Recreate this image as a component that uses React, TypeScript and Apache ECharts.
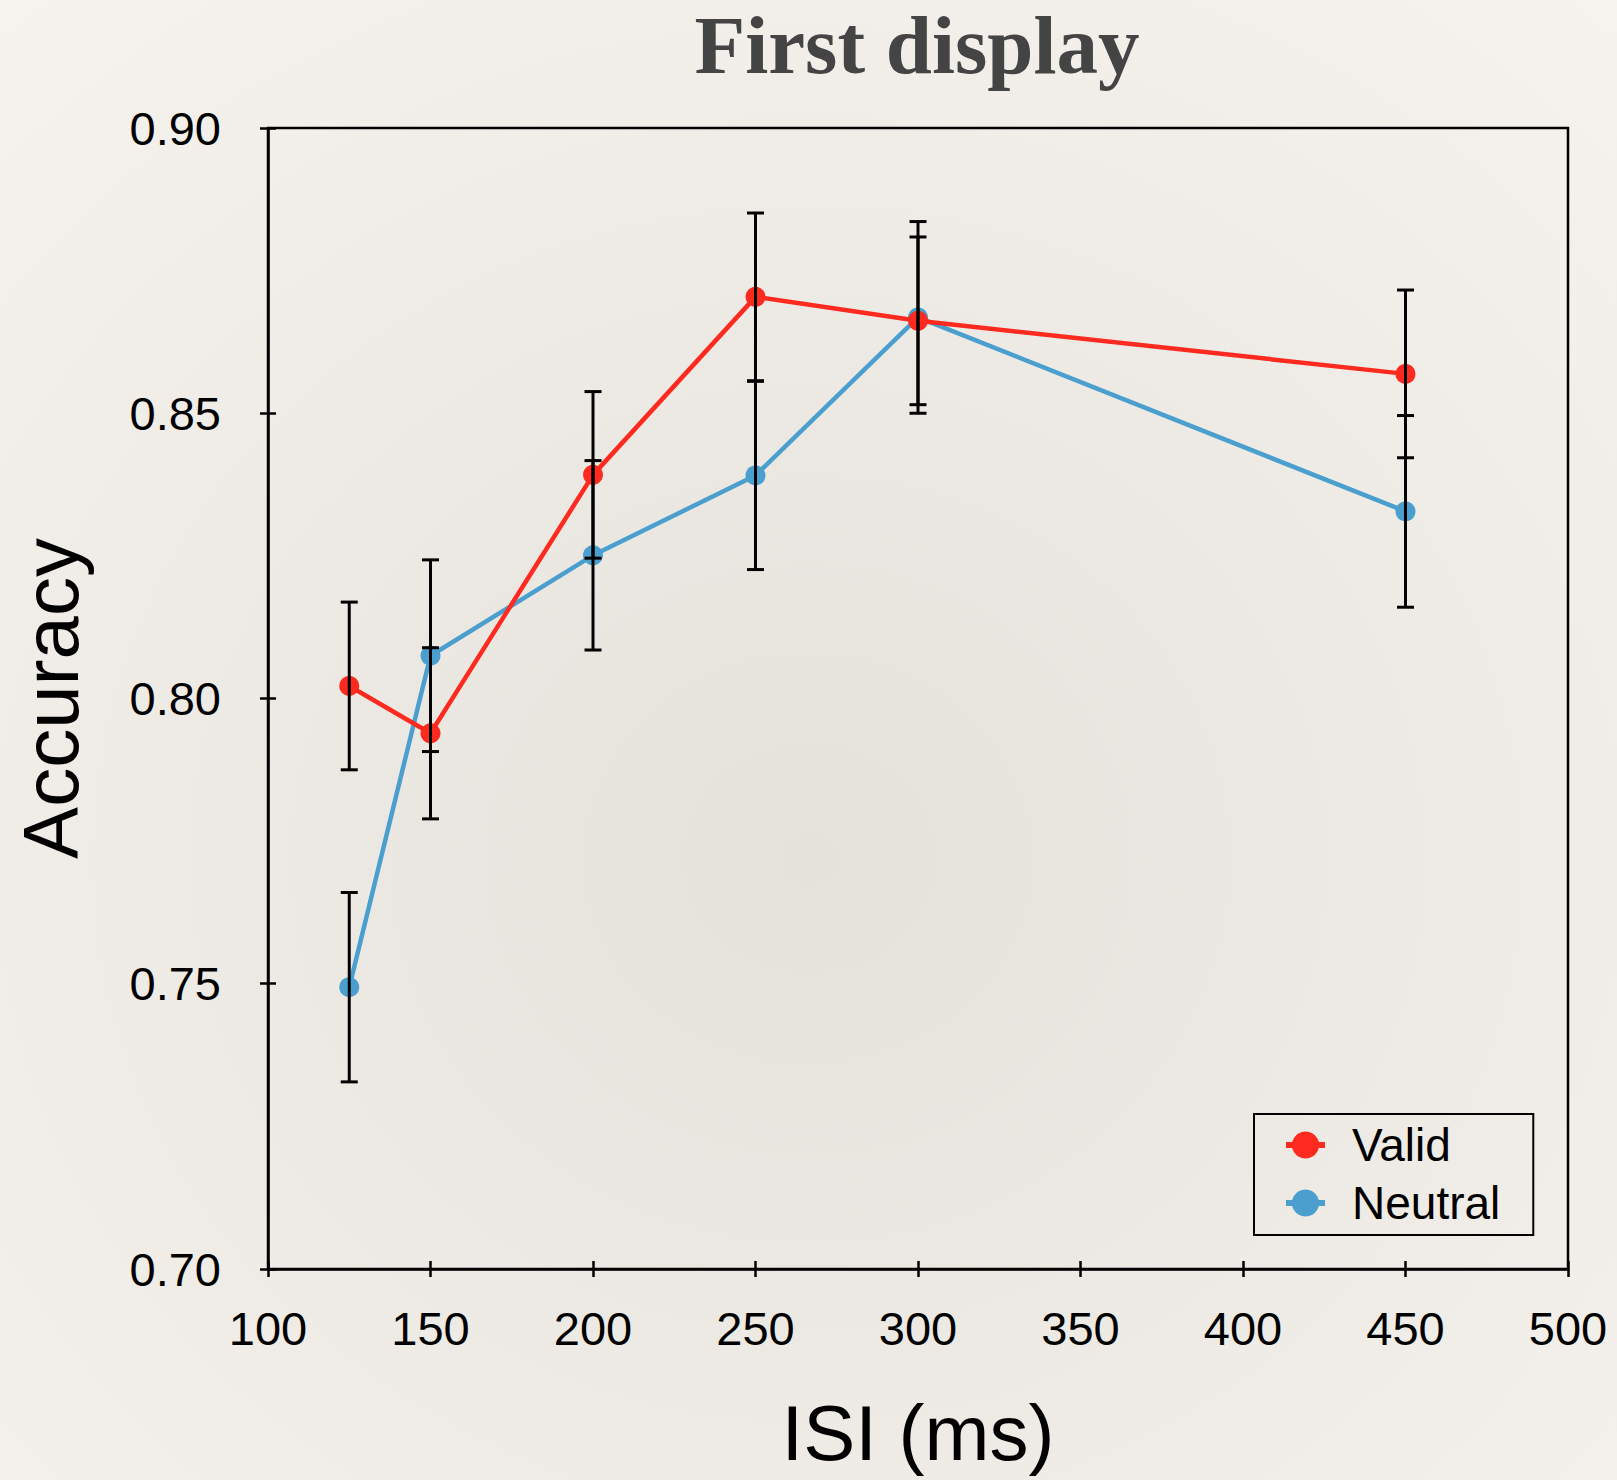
import React, { useEffect, useRef } from 'react';
import * as echarts from 'echarts';

const isi = [125, 150, 200, 250, 300, 450];
const validAcc = [0.8022, 0.7939, 0.8392, 0.8704, 0.8662, 0.8569];
const validErr = [0.0147, 0.015, 0.0146, 0.0147, 0.0147, 0.0147];
const neutralAcc = [0.7494, 0.8075, 0.8251, 0.8391, 0.8668, 0.8328];
const neutralErr = [0.0166, 0.0168, 0.0166, 0.0165, 0.0168, 0.0168];
const seriesNames = ['Valid', 'Neutral'];
const titleText = 'First display';
const xName = 'ISI (ms)';
const yName = 'Accuracy';

const RED = '#fd2a20';
const BLUE = '#4a9fcf';
const SANS = '"Liberation Sans", Arial, Helvetica, sans-serif';

function errorData(acc: number[], err: number[]) {
  return isi.map((x, i) => [x, acc[i] - err[i], acc[i] + err[i]]);
}

function renderErr(params: any, api: any) {
  const x = api.value(0);
  const lo = api.coord([x, api.value(1)]);
  const hi = api.coord([x, api.value(2)]);
  const w = 8.5;
  const st = { stroke: '#000', lineWidth: 3 };
  return {
    type: 'group',
    children: [
      { type: 'line', shape: { x1: lo[0], y1: lo[1], x2: hi[0], y2: hi[1] }, style: st },
      { type: 'line', shape: { x1: lo[0] - w, y1: lo[1], x2: lo[0] + w, y2: lo[1] }, style: st },
      { type: 'line', shape: { x1: hi[0] - w, y1: hi[1], x2: hi[0] + w, y2: hi[1] }, style: st },
    ],
  };
}

export default function App() {
  const ref = useRef<HTMLDivElement>(null);
  useEffect(() => {
    document.body.style.margin = '0';
    const chart = echarts.init(ref.current!, null, { renderer: 'svg' });
    const axisLine = { show: true, lineStyle: { color: '#000', width: 2.5 } };
    const tickStyle = { color: '#000', width: 2.5 };
    const labelStyle = { color: '#000', fontSize: 47, fontFamily: SANS };
    const nameStyle = { color: '#000', fontSize: 78, fontFamily: SANS };
    chart.setOption({
      animation: false,
      backgroundColor: new echarts.graphic.RadialGradient(0.5, 0.58, 0.75, [
        { offset: 0, color: '#e5e2dc' },
        { offset: 1, color: '#f6f3ee' },
      ]),
      graphic: [
        {
          type: 'text',
          x: 917,
          y: 3,
          z: 10,
          style: {
            text: titleText,
            fill: '#444',
            fontSize: 83,
            fontWeight: 'bold',
            fontFamily: '"Liberation Serif", "Times New Roman", serif',
            align: 'center',
            verticalAlign: 'top',
          },
        },
      ],
      grid: {
        left: 268,
        right: 49,
        top: 128,
        bottom: 211,
        show: true,
        borderColor: '#000',
        borderWidth: 2.5,
        backgroundColor: 'transparent',
      },
      legend: {
        data: seriesNames,
        orient: 'vertical',
        left: 1254,
        top: 1114,
        padding: [8, 33, 9, 29],
        itemWidth: 39,
        itemHeight: 34,
        itemGap: 12,
        borderColor: '#000',
        borderWidth: 2,
        backgroundColor: 'transparent',
        lineStyle: { width: 6 },
        textStyle: { color: '#000', fontSize: 46, fontFamily: SANS, lineHeight: 46, padding: [0, 0, 0, 22] },
      },
      xAxis: [
        {
          type: 'value',
          min: 100,
          max: 500,
          interval: 50,
          position: 'bottom',
          axisLine,
          axisTick: { show: true, inside: false, length: 8, lineStyle: tickStyle },
          axisLabel: { ...labelStyle, margin: 36 },
          splitLine: { show: false },
          name: xName,
          nameLocation: 'middle',
          nameGap: 125,
          nameTextStyle: nameStyle,
        },
        {
          type: 'value',
          min: 100,
          max: 500,
          interval: 50,
          position: 'bottom',
          axisLine: { show: false },
          axisTick: { show: true, inside: true, length: 8, lineStyle: tickStyle },
          axisLabel: { show: false },
          splitLine: { show: false },
        },
      ],
      yAxis: [
        {
          type: 'value',
          min: 0.7,
          max: 0.9,
          interval: 0.05,
          position: 'left',
          axisLine,
          axisTick: { show: true, inside: false, length: 8, lineStyle: tickStyle },
          axisLabel: { ...labelStyle, margin: 47, padding: [12, 0, 0, 0], formatter: (v: number) => v.toFixed(2) },
          splitLine: { show: false },
          name: yName,
          nameLocation: 'middle',
          nameRotate: 90,
          nameGap: 178,
          nameTextStyle: nameStyle,
        },
        {
          type: 'value',
          min: 0.7,
          max: 0.9,
          interval: 0.05,
          position: 'left',
          axisLine: { show: false },
          axisTick: { show: true, inside: true, length: 8, lineStyle: tickStyle },
          axisLabel: { show: false },
          splitLine: { show: false },
        },
      ],
      series: [
        {
          name: 'Neutral',
          type: 'line',
          data: isi.map((x, i) => [x, neutralAcc[i]]),
          symbol: 'circle',
          symbolSize: 20,
          lineStyle: { color: BLUE, width: 4.5 },
          itemStyle: { color: BLUE },
          z: 2,
        },
        {
          name: 'Valid',
          type: 'line',
          data: isi.map((x, i) => [x, validAcc[i]]),
          symbol: 'circle',
          symbolSize: 20,
          lineStyle: { color: RED, width: 4.5 },
          itemStyle: { color: RED },
          z: 3,
        },
        {
          name: 'NeutralErr',
          type: 'custom',
          data: errorData(neutralAcc, neutralErr),
          encode: { x: 0, y: [1, 2] },
          renderItem: renderErr,
          z: 5,
        },
        {
          name: 'ValidErr',
          type: 'custom',
          data: errorData(validAcc, validErr),
          encode: { x: 0, y: [1, 2] },
          renderItem: renderErr,
          z: 5,
        },
      ],
    });
    return () => chart.dispose();
  }, []);
  return <div ref={ref} style={{ width: 1617, height: 1480 }} />;
}
